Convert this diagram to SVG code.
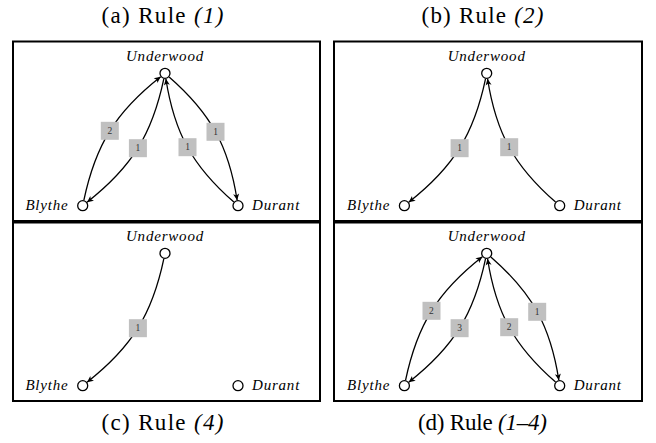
<svg xmlns="http://www.w3.org/2000/svg" width="656" height="443" viewBox="0 0 656 443">
<style>
.bg{fill:#ffffff}
.frame{fill:none;stroke:#000;stroke-width:2}
.cap{font-family:"Liberation Serif",serif;font-size:23px;fill:#000;text-anchor:middle}
.it{font-style:italic}
.nl{font-family:"Liberation Serif",serif;font-style:italic;font-size:15px;letter-spacing:0.8px;fill:#000}
.node{fill:#fff;stroke:#000;stroke-width:1.3}
.edge{fill:none;stroke:#000;stroke-width:1.3;marker-end:url(#arr)}
.lb{fill:#c0c0c0}
.lt{font-family:"Liberation Serif",serif;font-size:9.5px;fill:#333;text-anchor:middle}
</style>
<defs>
<marker id="arr" viewBox="-8 -4 9 8" refX="0" refY="0" markerWidth="9" markerHeight="8" markerUnits="userSpaceOnUse" orient="auto">
<path d="M0,0 L-6.5,-3 L-4.8,0 L-6.5,3 Z" fill="#000"/>
</marker>
<path id="eBU" d="M83.83,200.32 C95.55,144.54 115.83,111.89 160.67,76.70"/>
<path id="eUB" d="M163.87,78.68 C152.15,134.46 131.87,167.11 87.03,202.30"/>
<path id="eUD" d="M169.14,76.92 C210.67,113.19 228.65,145.79 237.15,200.27"/>
<path id="eDU" d="M233.86,202.08 C192.33,165.81 174.35,133.21 165.85,78.73"/>
</defs>
<rect class="bg" x="0" y="0" width="656" height="443"/>

<!-- captions -->
<text class="cap" x="162.5" y="22.5" textLength="122" lengthAdjust="spacing">(a) Rule <tspan class="it">(1)</tspan></text>
<text class="cap" x="482.5" y="22.5" textLength="122" lengthAdjust="spacing">(b) Rule <tspan class="it">(2)</tspan></text>
<text class="cap" x="162.5" y="430" textLength="122" lengthAdjust="spacing">(c) Rule <tspan class="it">(4)</tspan></text>
<text class="cap" x="482.5" y="430" textLength="129" lengthAdjust="spacing">(d) Rule <tspan class="it">(1–4)</tspan></text>

<!-- frames -->
<rect class="frame" x="13" y="41.5" width="307" height="179.5"/>
<rect class="frame" x="13" y="222.5" width="307" height="178.5"/>
<rect class="frame" x="334" y="41.5" width="308" height="179.5"/>
<rect class="frame" x="334" y="222.5" width="308" height="178.5"/>

<!-- panel a -->
<g id="panel-a">
<g id="a-connectors">
<use href="#eBU" class="edge"/>
<use href="#eUB" class="edge"/>
<use href="#eUD" class="edge"/>
<use href="#eDU" class="edge"/>
<rect class="lb" x="100.8" y="121.8" width="18" height="18"/><text class="lt" x="109.8" y="134">2</text>
<rect class="lb" x="128.9" y="139.2" width="18" height="18"/><text class="lt" x="137.9" y="151.4">1</text>
<rect class="lb" x="206.5" y="122.8" width="18" height="18"/><text class="lt" x="215.5" y="135">1</text>
<rect class="lb" x="178.5" y="138.2" width="18" height="18"/><text class="lt" x="187.5" y="150.4">1</text>
</g>
<g id="a-underwood"><circle class="node" cx="165" cy="73.3" r="5"/><text class="nl" x="165" y="60.5" text-anchor="middle">Underwood</text></g>
<g id="a-blythe"><circle class="node" cx="82.7" cy="205.7" r="5"/><text class="nl" x="68.5" y="210" text-anchor="end">Blythe</text></g>
<g id="a-durant"><circle class="node" cx="238" cy="205.7" r="5"/><text class="nl" x="252" y="210">Durant</text></g>
</g>

<!-- panel b -->
<g id="panel-b" transform="translate(321.7,0)">
<g id="b-connectors">
<use href="#eUB" class="edge"/>
<use href="#eDU" class="edge"/>
<rect class="lb" x="128.9" y="139.2" width="18" height="18"/><text class="lt" x="137.9" y="151.4">1</text>
<rect class="lb" x="178.5" y="138.2" width="18" height="18"/><text class="lt" x="187.5" y="150.4">1</text>
</g>
<g id="b-underwood"><circle class="node" cx="165" cy="73.3" r="5"/><text class="nl" x="165" y="60.5" text-anchor="middle">Underwood</text></g>
<g id="b-blythe"><circle class="node" cx="82.7" cy="205.7" r="5"/><text class="nl" x="68.5" y="210" text-anchor="end">Blythe</text></g>
<g id="b-durant"><circle class="node" cx="238" cy="205.7" r="5"/><text class="nl" x="252" y="210">Durant</text></g>
</g>

<!-- panel c -->
<g id="panel-c" transform="translate(0,180)">
<g id="c-connectors">
<use href="#eUB" class="edge"/>
<rect class="lb" x="128.9" y="139.2" width="18" height="18"/><text class="lt" x="137.9" y="151.4">1</text>
</g>
<g id="c-underwood"><circle class="node" cx="165" cy="73.3" r="5"/><text class="nl" x="165" y="60.5" text-anchor="middle">Underwood</text></g>
<g id="c-blythe"><circle class="node" cx="82.7" cy="205.7" r="5"/><text class="nl" x="68.5" y="210" text-anchor="end">Blythe</text></g>
<g id="c-durant"><circle class="node" cx="238" cy="205.7" r="5"/><text class="nl" x="252" y="210">Durant</text></g>
</g>

<!-- panel d -->
<g id="panel-d" transform="translate(321.7,180)">
<g id="d-connectors">
<use href="#eBU" class="edge"/>
<use href="#eUB" class="edge"/>
<use href="#eUD" class="edge"/>
<use href="#eDU" class="edge"/>
<rect class="lb" x="100.8" y="121.8" width="18" height="18"/><text class="lt" x="109.8" y="134">2</text>
<rect class="lb" x="128.9" y="139.2" width="18" height="18"/><text class="lt" x="137.9" y="151.4">3</text>
<rect class="lb" x="206.5" y="122.8" width="18" height="18"/><text class="lt" x="215.5" y="135">1</text>
<rect class="lb" x="178.5" y="138.2" width="18" height="18"/><text class="lt" x="187.5" y="150.4">2</text>
</g>
<g id="d-underwood"><circle class="node" cx="165" cy="73.3" r="5"/><text class="nl" x="165" y="60.5" text-anchor="middle">Underwood</text></g>
<g id="d-blythe"><circle class="node" cx="82.7" cy="205.7" r="5"/><text class="nl" x="68.5" y="210" text-anchor="end">Blythe</text></g>
<g id="d-durant"><circle class="node" cx="238" cy="205.7" r="5"/><text class="nl" x="252" y="210">Durant</text></g>
</g>
</svg>
